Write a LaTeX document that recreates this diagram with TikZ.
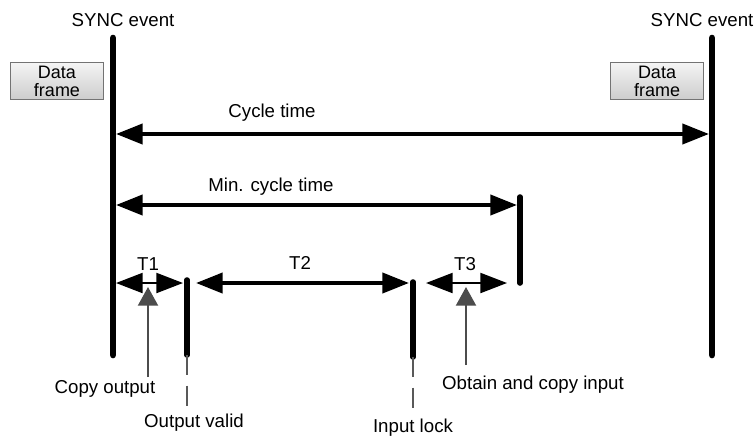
\documentclass[tikz,border=0pt]{standalone}
\usepackage{fontspec}
\setmainfont{Liberation Sans}
\usetikzlibrary{positioning, arrows.meta}

\begin{document}
\begin{tikzpicture}[
  x=0.75pt, y=-0.75pt, font=\fontsize{14}{16}\selectfont,
  >={Triangle[length=20pt, width=15pt]},
  bar/.style      = {line width=5pt, line cap=round},
  mark bar/.style = {line width=4.2pt, line cap=round},
  span/.style     = {line width=3pt, <->},
  short span/.style = {line width=1.6pt, <->},
  pointer/.style  = {draw=black!70, line width=1.6pt,
                     -{Triangle[length=14pt, width=15pt]}},
  guide/.style    = {draw=black!65, line width=1.5pt, dash pattern=on 15pt off 8pt},
  frame/.style    = {draw=black!55, top color=black!4, bottom color=black!20,
                     font=\fontsize{13.5}{13.5}\selectfont,
                     align=center, minimum width=70pt, minimum height=28pt, inner sep=0pt},
  lbl/.style      = {inner sep=1pt},
]
  \useasboundingbox (0,0) rectangle (756,437);

  % ---- SYNC events and data frames ----
  \coordinate (sync1top) at (113,38);  \coordinate (sync1bot) at (113,355);
  \coordinate (sync2top) at (712,38);  \coordinate (sync2bot) at (712,355);
  \draw[bar] (sync1top) -- (sync1bot);
  \draw[bar] (sync2top) -- (sync2bot);

  \node[lbl] (sync1) at (123,20) {SYNC event};
  \node[lbl] (sync2) at (702,20) {SYNC event};

  \node[frame] (frame1) at (57,81)  {Data\\frame};
  \node[frame] (frame2) at (657,81) {Data\\frame};

  % ---- cycle times ----
  \coordinate (cyc1) at (116,134);  \coordinate (cyc2) at (709,134);
  \draw[span] (cyc1) -- (cyc2);
  \node[lbl] (cyclbl) at (272,113) {Cycle time};

  \coordinate (mincyc1) at (116,205);  \coordinate (mincyc2) at (517,205);
  \coordinate (mintop)  at (520,197);  \coordinate (minbot)  at (520,283);
  \draw[mark bar] (mintop) -- (minbot);
  \draw[span] (mincyc1) -- (mincyc2);
  \node[lbl] (mincyclbl) at (271,187) {Min. cycle time};

  % ---- output valid / input lock ----
  \coordinate (outtop) at (187,280);  \coordinate (outbot) at (187,355);
  \coordinate (intop)  at (413,282);  \coordinate (inbot)  at (413,357);
  \draw[mark bar] (outtop) -- (outbot);
  \draw[mark bar] (intop)  -- (inbot);
  \draw[guide] (outbot) -- ++(0,52);
  \draw[guide] (inbot)  -- ++(0,55);
  \node[lbl] (outlbl) at (194,423) {Output valid};
  \node[lbl] (inlbl)  at (413,428) {Input lock};

  % ---- T1, T2, T3 ----
  \coordinate (t1a) at (116,283);  \coordinate (t1b) at (183,283);
  \coordinate (t2a) at (196,283);  \coordinate (t2b) at (409,283);
  \coordinate (t3a) at (426,283);  \coordinate (t3b) at (507,283);
  \draw[short span] (t1a) -- (t1b);
  \draw[span]       (t2a) -- (t2b);
  \draw[short span] (t3a) -- (t3b);
  \node[lbl] (t1lbl) at (148,264) {T1};
  \node[lbl] (t2lbl) at (300,263) {T2};
  \node[lbl] (t3lbl) at (465,264) {T3};

  % ---- pointers ----
  \coordinate (copyout) at (148,377);  \coordinate (copyin) at (466,365);
  \draw[pointer] (copyout) -- (148,287);
  \draw[pointer] (copyin)  -- (466,287);
  \node[lbl] (copyoutlbl) at (105,389) {Copy output};
  \node[lbl] (copyinlbl)  at (533,385) {Obtain and copy input};
\end{tikzpicture}
\end{document}
